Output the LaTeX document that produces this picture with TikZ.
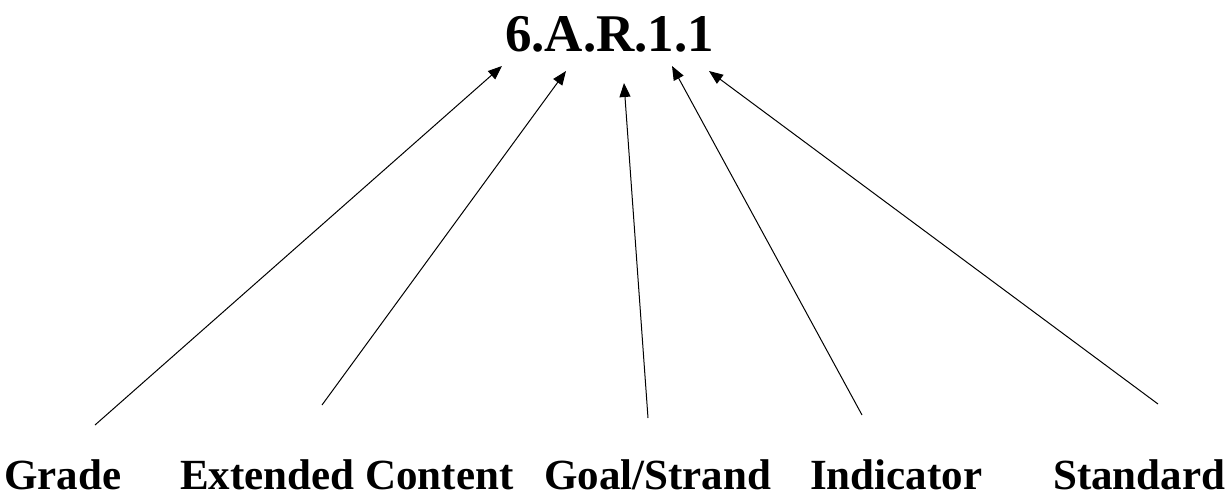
\documentclass[tikz,border=0pt]{standalone}
\usepackage{fontspec}
\setmainfont{Liberation Serif}
\usetikzlibrary{arrows.meta}
\begin{document}
\begin{tikzpicture}[x = 1pt, y = -1pt, part/.style = {anchor = base west, font = \fontsize{43}{48}\selectfont\bfseries, inner sep = 0pt}, pointer/.style = {line width = 1pt, -{Triangle[length = 14pt, width = 11pt]}}]
	\useasboundingbox (0,0) rectangle (1228,500);
	\node [part, font = \fontsize{53}{60}\selectfont\bfseries] (code) at (505,52) {6.A.R.1.1};
	\node [part] (grade) at (4,489) {Grade};
	\node [part] (ext) at (180,489) {Extended Content};
	\node [part] (goal) at (544,489) {Goal/Strand};
	\node [part] (ind) at (810,489) {Indicator};
	\node [part] (std) at (1053,489) {Standard};
	% tails
	\coordinate (grade-t) at (95,425);
	\coordinate (ext-t) at (322,405);
	\coordinate (goal-t) at (648,418);
	\coordinate (ind-t) at (862,415);
	\coordinate (std-t) at (1158,404);
	% tips below the code
	\coordinate (grade-h) at (502,66);
	\coordinate (ext-h) at (566,71);
	\coordinate (goal-h) at (624,83);
	\coordinate (ind-h) at (672,66);
	\coordinate (std-h) at (709,71);
	\draw [pointer] (grade-t) -- (grade-h);
	\draw [pointer] (ext-t) -- (ext-h);
	\draw [pointer] (goal-t) -- (goal-h);
	\draw [pointer] (ind-t) -- (ind-h);
	\draw [pointer] (std-t) -- (std-h);
\end{tikzpicture}
\end{document}
